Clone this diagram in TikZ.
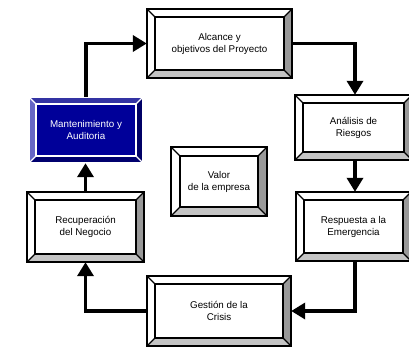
\documentclass[tikz,border=0pt]{standalone}
\usepackage{fontspec}
\setmainfont{Liberation Sans}
\usetikzlibrary{arrows.meta,calc}
\definecolor{bevRight}{HTML}{999999}
\definecolor{bevBottom}{HTML}{C4C4C4}
\definecolor{navyFace}{HTML}{000099}
\definecolor{navyTop}{HTML}{3333A3}
\definecolor{navyLeft}{HTML}{6666C6}
\definecolor{navyRight}{HTML}{000066}
\definecolor{navyBottom}{HTML}{00006E}
\newcommand{\setbev}[7]{\def\bvface{#1}\def\bvtop{#2}\def\bvleft{#3}\def\bvright{#4}\def\bvbottom{#5}\def\bvline{#6}\def\bvtext{#7}}
% name, x1, y1, x2, y2, bevel, text
\newcommand{\bevbox}[7]{%
  \pgfmathsetmacro\bvw{#4-#2}\pgfmathsetmacro\bvh{#5-#3}%
  \fill[\bvface] ({#2+#6},{#3+#6}) rectangle ({#4-#6},{#5-#6});
  \fill[\bvtop] (#2,#3) -- (#4,#3) -- ({#4-#6},{#3+#6}) -- ({#2+#6},{#3+#6}) -- cycle;
  \fill[\bvleft] (#2,#3) -- ({#2+#6},{#3+#6}) -- ({#2+#6},{#5-#6}) -- (#2,#5) -- cycle;
  \fill[\bvright] (#4,#3) -- (#4,#5) -- ({#4-#6},{#5-#6}) -- ({#4-#6},{#3+#6}) -- cycle;
  \fill[\bvbottom] (#2,#5) -- (#4,#5) -- ({#4-#6},{#5-#6}) -- ({#2+#6},{#5-#6}) -- cycle;
  \draw[boxline, draw=\bvline] (#2,#3) rectangle (#4,#5);
  \draw[boxline, draw=\bvline] ({#2+#6},{#3+#6}) rectangle ({#4-#6},{#5-#6});
  \draw[boxline, draw=\bvline] (#2,#3) -- ({#2+#6},{#3+#6})
     (#4,#3) -- ({#4-#6},{#3+#6}) (#4,#5) -- ({#4-#6},{#5-#6}) (#2,#5) -- ({#2+#6},{#5-#6});
  \node[boxtext, text=\bvtext, minimum width=\bvw pt, minimum height=\bvh pt] (#1) at ({(#2+#4)/2},{(#3+#5)/2}) {#7};
}
\begin{document}
\begin{tikzpicture}[x=1pt,y=-1pt,
  boxline/.style={line width=1.3pt, line join=miter},
  boxtext/.style={inner sep=0pt, align=center, font=\fontsize{9.8}{12}\selectfont},
  flow/.style={line width=3.6pt, -{Triangle[length=14pt,width=16pt]}}]
\useasboundingbox (0,0) rectangle (409,347);
\clip (0,0) rectangle (409,347);
\setbev{white}{white}{white}{bevRight}{bevBottom}{black}{black}
\bevbox{alc}{147}{9}{292}{78}{8}{Alcance y\\objetivos del Proyecto}
\bevbox{ana}{295}{95}{412}{160}{8}{Análisis de\\Riesgos}
\bevbox{resp}{296}{192}{411}{261}{8}{Respuesta a la\\Emergencia}
\bevbox{ges}{147}{276}{291}{346}{8}{Gestión de la\\Crisis}
\bevbox{rec}{27}{192}{144}{262}{8}{Recuperación\\del Negocio}
\bevbox{val}{171}{147}{267}{216}{9}{Valor\\de la empresa}
\setbev{navyFace}{navyTop}{navyLeft}{navyRight}{navyBottom}{white}{white}
\bevbox{mant}{29}{97}{143}{163}{7}{Mantenimiento y\\Auditoria}
\draw[flow] (mant.north) |- (alc.west);
\draw[flow] (alc.east) -| ([xshift=1.5pt]ana.north);
\draw[flow] ([xshift=1.5pt]ana.south) -- ([xshift=1.5pt]ana.south |- resp.north);
\draw[flow] ([xshift=1.5pt]resp.south) |- (ges.east);
\draw[flow] (ges.west) -| (rec.south);
\draw[flow] (rec.north) -- (rec.north |- mant.south);
\end{tikzpicture}
\end{document}
